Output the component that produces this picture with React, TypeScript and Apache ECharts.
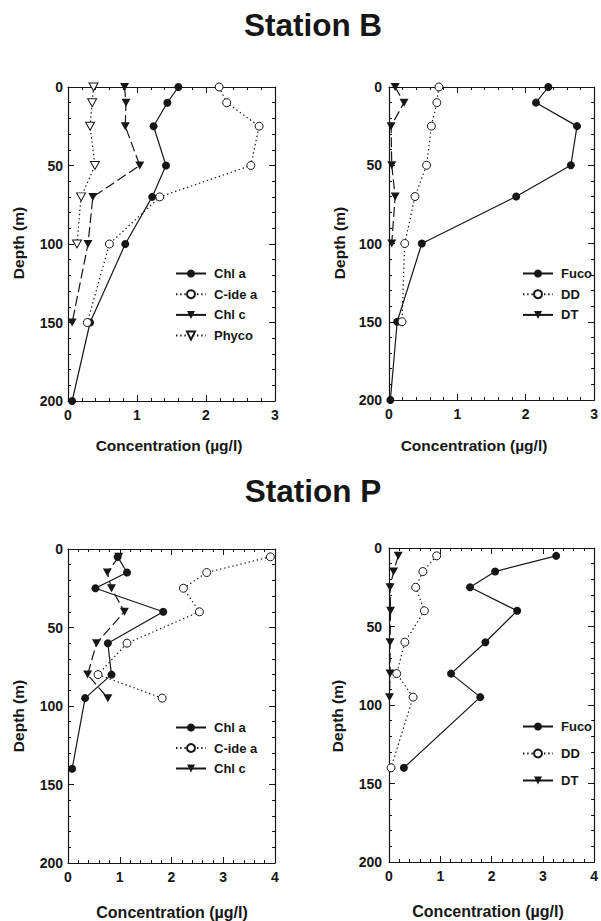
import React, { useEffect, useRef } from "react";
import * as echarts from "echarts";

// ---- data ----
const depthsB = [0, 10, 25, 50, 70, 100, 150, 200];
const chlaB = [1.6, 1.44, 1.24, 1.42, 1.22, 0.83, 0.32, 0.06];
const cideB = [2.19, 2.3, 2.77, 2.65, 1.33, 0.6, 0.28];
const chlcB = [0.82, 0.84, 0.83, 1.04, 0.36, 0.29, 0.06];
const phycoB = [0.37, 0.35, 0.32, 0.39, 0.19, 0.13];
const fucoB = [2.33, 2.15, 2.75, 2.66, 1.86, 0.48, 0.12, 0.02];
const ddB = [0.73, 0.7, 0.62, 0.55, 0.38, 0.23, 0.19];
const dtB = [0.09, 0.22, 0.03, 0.04, 0.09, 0.04];

const depthsP = [5, 15, 25, 40, 60, 80, 95, 140];
const chlaP = [0.96, 1.14, 0.53, 1.84, 0.77, 0.84, 0.33, 0.08];
const cideP = [3.91, 2.68, 2.23, 2.54, 1.14, 0.58, 1.82];
const chlcP = [0.98, 0.76, 0.84, 1.09, 0.55, 0.38, 0.77];
const fucoP = [3.26, 2.07, 1.58, 2.5, 1.88, 1.21, 1.78, 0.29];
const ddP = [0.93, 0.66, 0.52, 0.69, 0.31, 0.15, 0.47, 0.04];
const dtP = [0.18, 0.09, 0.02, 0.03, 0.02, 0.02, 0.01];

const depthMax = 200;
const depthInterval = 50;
const concMaxB = 3;
const concMaxP = 4;

const titles = ["Station B", "Station P"];
const xTitle = "Concentration (µg/l)";
const yTitle = "Depth (m)";

const INK = "#161616";
const FONT = '"Liberation Sans", Arial, Helvetica, sans-serif';

const TRI = "path://M0,0L10,0L5,9Z";

const pairs = (vals: number[], depths: number[]) => vals.map((v, i) => [v, depths[i]]);

type Style = "solid" | "dotted" | "dashed";

function lineType(s: Style): any {
  if (s === "dotted") return [1.4, 2.8];
  if (s === "dashed") return [10, 4];
  return "solid";
}

function mkSeries(
  name: string,
  grid: number,
  vals: number[],
  depths: number[],
  marker: "fc" | "oc" | "ft" | "ot",
  style: Style
) {
  const filled = marker === "fc" || marker === "ft";
  const tri = marker === "ft" || marker === "ot";
  return {
    type: "line",
    name,
    xAxisIndex: grid * 2,
    yAxisIndex: grid * 2,
    data: pairs(vals, depths),
    symbol: tri ? TRI : "circle",
    symbolSize: tri ? [9, 8] : 8,
    clip: false,
    z: filled ? 3 : 4,
    lineStyle: { color: INK, width: 1.2, type: lineType(style) },
    itemStyle: filled
      ? { color: INK, borderColor: INK, borderWidth: 0 }
      : { color: "#ffffff", borderColor: INK, borderWidth: 1 },
    emphasis: { disabled: true },
  };
}

const labelStyle = {
  color: INK,
  fontSize: 14,
  fontWeight: "bold",
  fontFamily: FONT,
};

function axesFor(grid: number, xMax: number, yMargin: number) {
  const common = {
    axisLine: { show: true, onZero: false, lineStyle: { color: INK, width: 1.2 } },
    axisTick: { show: true, inside: true, length: 6, lineStyle: { color: INK, width: 1 } },
    minorTick: { show: true, splitNumber: 5, length: 3, lineStyle: { color: INK, width: 1 } },
    splitLine: { show: false },
    minorSplitLine: { show: false },
  };
  const xs = [
    {
      ...common,
      gridIndex: grid,
      type: "value",
      min: 0,
      max: xMax,
      interval: 1,
      position: "bottom",
      axisLabel: { ...labelStyle, margin: 7 },
    },
    {
      ...common,
      gridIndex: grid,
      type: "value",
      min: 0,
      max: xMax,
      interval: 1,
      position: "top",
      axisLabel: { show: false },
    },
  ];
  const ys = [
    {
      ...common,
      gridIndex: grid,
      type: "value",
      inverse: true,
      min: 0,
      max: depthMax,
      interval: depthInterval,
      position: "left",
      axisLabel: { ...labelStyle, margin: yMargin },
    },
    {
      ...common,
      gridIndex: grid,
      type: "value",
      inverse: true,
      min: 0,
      max: depthMax,
      interval: depthInterval,
      position: "right",
      axisLabel: { show: false },
    },
  ];
  return { xs, ys };
}

function legendFor(names: string[], left: number, top: number, gap: number, solidNames: string[]) {
  return {
    orient: "vertical",
    left,
    top,
    itemWidth: 30,
    itemHeight: 10,
    itemGap: gap,
    selectedMode: false,
    formatter: (n: string) => n.split("|")[0],
    textStyle: { ...labelStyle, fontSize: 13, padding: [0, 0, 0, 3] },
    data: names.map((n) =>
      solidNames.includes(n) ? { name: n, lineStyle: { type: "solid" } } : { name: n }
    ),
  };
}

function textEl(text: string, x: number, y: number, size: number, rotation = 0) {
  return {
    type: "text",
    x,
    y,
    rotation,
    style: {
      text,
      fill: INK,
      font: `bold ${size}px ${FONT}`,
      textAlign: "center",
      textVerticalAlign: "middle",
    },
  };
}

export default function App() {
  const ref = useRef<HTMLDivElement>(null);

  useEffect(() => {
    if (!ref.current) return;
    const chart = echarts.init(ref.current, undefined, { renderer: "svg" });

    const a0 = axesFor(0, concMaxB, 5);
    const a1 = axesFor(1, concMaxB, 7);
    const a2 = axesFor(2, concMaxP, 5);
    const a3 = axesFor(3, concMaxP, 7);

    const option: any = {
      animation: false,
      backgroundColor: "#ffffff",
      grid: [
        { left: 68, top: 87, width: 207, height: 314 },
        { left: 389, top: 87, width: 209, height: 313 },
        { left: 68, top: 549, width: 207, height: 314 },
        { left: 389, top: 548, width: 209, height: 314 },
      ],
      xAxis: [...a0.xs, ...a1.xs, ...a2.xs, ...a3.xs],
      yAxis: [...a0.ys, ...a1.ys, ...a2.ys, ...a3.ys],
      legend: [
        legendFor(["Chl a|B", "C-ide a|B", "Chl c|B", "Phyco|B"], 170, 262, 7.7, ["Chl c|B"]),
        legendFor(["Fuco|B", "DD|B", "DT|B"], 517, 262, 7.7, ["DT|B"]),
        legendFor(["Chl a|P", "C-ide a|P", "Chl c|P"], 170, 716, 7.5, ["Chl c|P"]),
        legendFor(["Fuco|P", "DD|P", "DT|P"], 517, 715, 14, ["DT|P"]),
      ],
      series: [
        mkSeries("Chl a|B", 0, chlaB, depthsB, "fc", "solid"),
        mkSeries("C-ide a|B", 0, cideB, depthsB, "oc", "dotted"),
        mkSeries("Chl c|B", 0, chlcB, depthsB, "ft", "dashed"),
        mkSeries("Phyco|B", 0, phycoB, depthsB, "ot", "dotted"),
        mkSeries("Fuco|B", 1, fucoB, depthsB, "fc", "solid"),
        mkSeries("DD|B", 1, ddB, depthsB, "oc", "dotted"),
        mkSeries("DT|B", 1, dtB, depthsB, "ft", "dashed"),
        mkSeries("Chl a|P", 2, chlaP, depthsP, "fc", "solid"),
        mkSeries("C-ide a|P", 2, cideP, depthsP, "oc", "dotted"),
        mkSeries("Chl c|P", 2, chlcP, depthsP, "ft", "dashed"),
        mkSeries("Fuco|P", 3, fucoP, depthsP, "fc", "solid"),
        mkSeries("DD|P", 3, ddP, depthsP, "oc", "dotted"),
        mkSeries("DT|P", 3, dtP, depthsP, "ft", "dashed"),
      ],
      graphic: [
        textEl(titles[0], 313, 25, 31.5),
        textEl(titles[1], 313, 491, 31.5),
        textEl(xTitle, 169, 445, 15.5),
        textEl(xTitle, 474, 445, 15.5),
        textEl(xTitle, 172, 912, 16),
        textEl(xTitle, 488, 911, 16),
        textEl(yTitle, 18.5, 243, 15.5, Math.PI / 2),
        textEl(yTitle, 339.5, 243, 15.5, Math.PI / 2),
        textEl(yTitle, 18.5, 716, 15.5, Math.PI / 2),
        textEl(yTitle, 337, 716, 15.5, Math.PI / 2),
      ],
    };

    chart.setOption(option);
    return () => chart.dispose();
  }, []);

  return (
    <div
      ref={ref}
      style={{ position: "absolute", left: 0, top: 0, width: 601, height: 921, background: "#fff" }}
    />
  );
}
